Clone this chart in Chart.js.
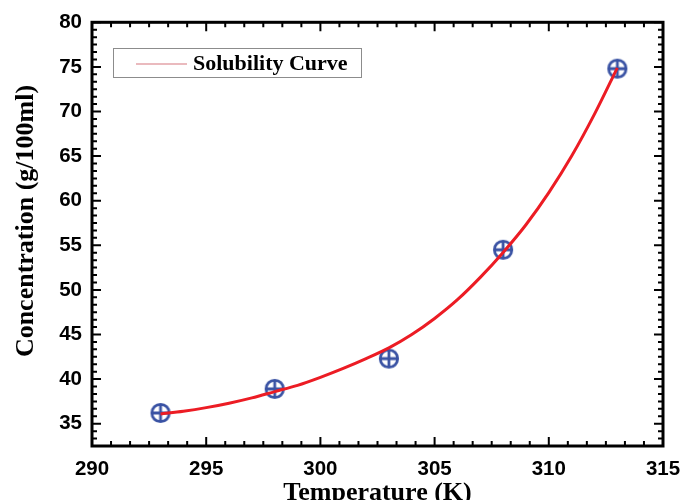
<!DOCTYPE html>
<html>
<head>
<meta charset="utf-8">
<title>Solubility Curve</title>
<script src="https://cdn.jsdelivr.net/npm/chart.js@4.4.0/dist/chart.umd.min.js"></script>
<style>
    html, body { margin: 0; padding: 0; background: #ffffff; }
    #wrap { width: 683px; height: 500px; }
</style>
</head>
<body>
<div id="wrap"><canvas id="solChart"></canvas></div>
<script>
// measured solubility (g/100ml) at each temperature (K)
const tempPoints = [293, 298, 303, 308, 313];
const concPoints = [36.2, 38.9, 42.3, 54.5, 74.8];

// fitted curve, sampled every 1 K
const curveTemps = [293, 294, 295, 296, 297, 298, 299, 300, 301, 302, 303,
                    304, 305, 306, 307, 308, 309, 310, 311, 312, 313];
const curveConc = [36.1, 36.4, 36.8, 37.3, 37.9, 38.6, 39.3, 40.2, 41.2, 42.3, 43.5,
                   45.0, 46.8, 48.9, 51.4, 54.2, 57.3, 60.9, 65.0, 69.7, 74.9];

const xTickLabels = [290, 295, 300, 305, 310, 315];
const yTickLabels = [35, 40, 45, 50, 55, 60, 65, 70, 75, 80];

const xTitle = 'Temperature (K)';
const yTitle = 'Concentration (g/100ml)';

const lineColor = '#ec1c24';
const markColor = '#3a53a4';

const tickFont = { family: '"Liberation Sans", Arial, sans-serif', size: 20.5, weight: 'bold' };
const titleFont = { family: '"Liberation Serif", "Times New Roman", serif', size: 26, weight: 'bold' };

// circle with a plus inside, used as the point marker
function makeMarker() {
    const c = document.createElement('canvas');
    c.width = 24;
    c.height = 24;
    const g = c.getContext('2d');
    g.strokeStyle = markColor;
    g.lineWidth = 2.8;
    g.beginPath();
    g.arc(12, 12, 8.7, 0, Math.PI * 2);
    g.stroke();
    g.beginPath();
    g.moveTo(3.3, 12); g.lineTo(20.7, 12);
    g.moveTo(12, 3.3); g.lineTo(12, 20.7);
    g.stroke();
    return c;
}

// frame plus inward major/minor ticks on all four sides
const frameTicks = {
    id: 'frameTicks',
    afterDraw(chart) {
        const ctx = chart.ctx;
        const a = chart.chartArea;
        const xs = chart.scales.x, ys = chart.scales.y;
        ctx.save();
        ctx.strokeStyle = '#000';
        ctx.lineCap = 'butt';

        ctx.lineWidth = 2;
        ctx.beginPath();
        const minorStep = 5 / 6;
        for (let i = 0; i <= 30; i++) {
            const px = xs.getPixelForValue(290 + i * minorStep);
            const len = (i % 6 === 0) ? 9 : 5;
            ctx.moveTo(px, a.bottom); ctx.lineTo(px, a.bottom - len);
            ctx.moveTo(px, a.top); ctx.lineTo(px, a.top + len);
        }
        for (let i = -3; i <= 54; i++) {
            const v = 35 + i * minorStep;
            if (v < ys.min - 0.01 || v > ys.max + 0.01) continue;
            const py = ys.getPixelForValue(v);
            const len = (i % 6 === 0) ? 9 : 5;
            ctx.moveTo(a.left, py); ctx.lineTo(a.left + len, py);
            ctx.moveTo(a.right, py); ctx.lineTo(a.right - len, py);
        }
        ctx.stroke();

        ctx.lineWidth = 3;
        ctx.strokeRect(a.left, a.top, a.right - a.left, a.bottom - a.top);

        // y axis title, rotated
        ctx.fillStyle = '#000';
        ctx.font = 'bold 26px "Liberation Serif", "Times New Roman", serif';
        ctx.textAlign = 'center';
        ctx.textBaseline = 'middle';
        ctx.translate(26, 221);
        ctx.rotate(-Math.PI / 2);
        ctx.fillText(yTitle, 0, 0);
        ctx.restore();
    }
};

// boxed legend inside the plot
const boxLegend = {
    id: 'boxLegend',
    afterDraw(chart) {
        const ctx = chart.ctx;
        const ds = chart.data.datasets[0];
        ctx.save();
        ctx.fillStyle = '#fff';
        ctx.fillRect(113, 48, 248, 29);
        ctx.strokeStyle = '#8c8c8c';
        ctx.lineWidth = 1;
        ctx.strokeRect(113.5, 48.5, 248, 29);
        ctx.strokeStyle = '#e3a3a8';
        ctx.lineWidth = 1.5;
        ctx.beginPath();
        ctx.moveTo(136, 64); ctx.lineTo(187, 64);
        ctx.stroke();
        ctx.fillStyle = '#000';
        ctx.font = 'bold 22px "Liberation Serif", "Times New Roman", serif';
        ctx.textBaseline = 'middle';
        ctx.fillText(ds.label, 193, 64);
        ctx.restore();
    }
};

new Chart(document.getElementById('solChart'), {
    type: 'scatter',
    data: {
        datasets: [
            {
                label: 'Solubility Curve',
                data: curveTemps.map((t, i) => ({ x: t, y: curveConc[i] })),
                showLine: true,
                borderColor: lineColor,
                borderWidth: 3,
                pointRadius: 0,
                cubicInterpolationMode: 'monotone',
                order: 0
            },
            {
                label: 'Measured',
                data: tempPoints.map((t, i) => ({ x: t, y: concPoints[i] })),
                showLine: false,
                pointStyle: makeMarker(),
                pointRadius: 10,
                order: 1
            }
        ]
    },
    options: {
        responsive: true,
        maintainAspectRatio: false,
        animation: false,
        layout: { padding: { left: 0, top: 21, right: 20, bottom: 0 } },
        plugins: {
            legend: { display: false },
            tooltip: { enabled: false }
        },
        scales: {
            x: {
                type: 'linear',
                min: 290,
                max: 315,
                afterBuildTicks: s => { s.ticks = xTickLabels.map(v => ({ value: v })); },
                afterFit: s => {
                    s.height = 54;
                    // let the end labels hang over the padding
                    s.paddingLeft = 0;
                    s.paddingRight = 0;
                },
                grid: { display: false, drawTicks: false },
                border: { display: false },
                ticks: { color: '#000', font: tickFont, padding: 11, maxRotation: 0 },
                title: {
                    display: true,
                    text: xTitle,
                    color: '#000',
                    font: Object.assign({ lineHeight: 0.5 }, titleFont),
                    padding: { top: 0, bottom: 0 }
                }
            },
            y: {
                type: 'linear',
                min: 32.5,
                max: 80,
                afterBuildTicks: s => { s.ticks = yTickLabels.map(v => ({ value: v })); },
                afterFit: s => { s.width = 92; },
                grid: { display: false, drawTicks: false },
                border: { display: false },
                ticks: { color: '#000', font: tickFont, padding: 10 }
            }
        }
    },
    plugins: [frameTicks, boxLegend]
});
</script>
</body>
</html>
